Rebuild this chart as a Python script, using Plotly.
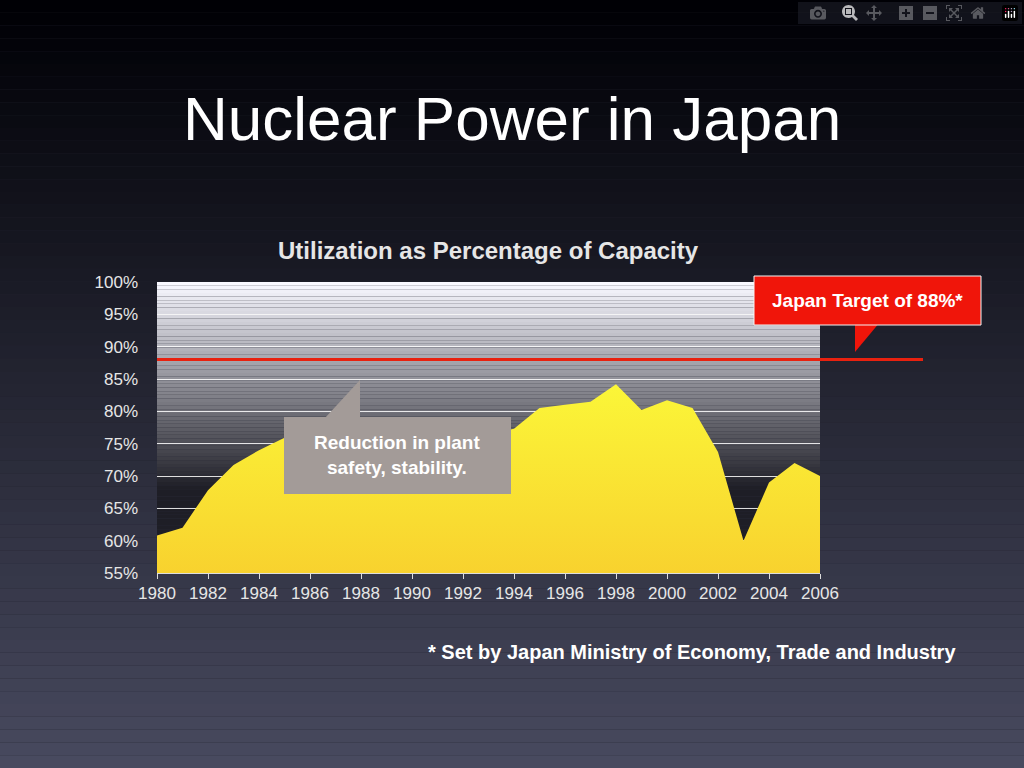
import plotly.graph_objects as go

years = list(range(1980, 2007))
utilization = [60.8, 62.0, 67.8, 71.7, 74.0, 75.9, 76.5, 76.0, 75.5, 75.0, 75.5, 76.0, 76.2, 76.5, 77.3,
               80.5, 81.0, 81.5, 84.2, 80.2, 81.7, 80.5, 73.7, 60.0, 69.0, 72.0, 70.0]
target = 88
y_ticks = [55, 60, 65, 70, 75, 80, 85, 90, 95, 100]

W, H = 1024, 768
L, R, T, B = 157, 820, 282, 573

def px(x, y):
    return (x - L) / (R - L), (H - y - (H - B)) / (B - T)

fig = go.Figure()
fig.add_trace(go.Scatter(
    x=years, y=utilization, mode="lines", line=dict(width=0, color="#f5d020"),
    fill="tozeroy",
    fillgradient=dict(type="vertical", colorscale=[[0, "#f08a22"], [0.5, "#f7c22a"], [1, "#fbf638"]]),
    hoverinfo="x+y"))

shapes = []
# page background gradient
n = 60
for i in range(n):
    t = i / (n - 1)
    c = (int(0 + 72 * t), int(0 + 74 * t), int(5 + 90 * t))
    shapes.append(dict(type="rect", xref="paper", yref="paper", layer="below",
                       x0=-1, x1=2, y0=px(0, H * (i + 1) / n)[1], y1=px(0, H * i / n)[1],
                       fillcolor="rgb(%d,%d,%d)" % c, line=dict(width=0)))
# plot area gradient (light top to dark)
m = 80
for i in range(m):
    t = i / (m - 1)
    g = int(248 - 218 * min(1, t * 1.4))
    shapes.append(dict(type="rect", xref="paper", yref="paper", layer="below",
                       x0=0, x1=1, y0=1 - (i + 1) / m, y1=1 - i / m,
                       fillcolor="rgb(%d,%d,%d)" % (g, g, g + 8), line=dict(width=0)))
# target line
shapes.append(dict(type="line", xref="paper", yref="y", x0=0, x1=px(923, 0)[0],
                   y0=target, y1=target, line=dict(color="#e8210f", width=3)))
# red box pointer
a, b = px(855, 352), px(855, 322)
c = px(880, 322)
shapes.append(dict(type="path", xref="paper", yref="paper",
                   path="M %f %f L %f %f L %f %f Z" % (a[0], a[1], b[0], b[1], c[0], c[1]),
                   fillcolor="#f0150a", line=dict(width=0)))
# grey callout pointer
a, b, c = px(325, 418), px(360, 380), px(360, 418)
shapes.append(dict(type="path", xref="paper", yref="paper",
                   path="M %f %f L %f %f L %f %f Z" % (a[0], a[1], b[0], b[1], c[0], c[1]),
                   fillcolor="#a39b98", line=dict(width=0)))
x0, y1 = px(284, 417)
x1, y0 = px(511, 494)
shapes.append(dict(type="rect", xref="paper", yref="paper", x0=x0, x1=x1, y0=y0, y1=y1,
                   fillcolor="#a39b98", line=dict(width=0)))
x0, y1 = px(754, 276)
x1, y0 = px(981, 325)
shapes.append(dict(type="rect", xref="paper", yref="paper", x0=x0, x1=x1, y0=y0, y1=y1,
                   fillcolor="#f0150a", line=dict(color="#f4f4f4", width=1)))

ann = [
    dict(text="Nuclear Power in Japan", x=px(512, 118)[0], y=px(0, 118)[1],
         font=dict(size=62, color="white", family="Liberation Sans")),
    dict(text="<b>Utilization as Percentage of Capacity</b>", x=px(488, 250)[0], y=px(0, 250)[1],
         font=dict(size=24, color="#e6e6e6", family="Liberation Sans")),
    dict(text="<b>Japan Target of 88%*</b>", x=px(867, 300)[0], y=px(0, 300)[1],
         font=dict(size=19, color="white", family="Liberation Sans")),
    dict(text="<b>Reduction in plant<br>safety, stability.</b>", x=px(397, 455)[0], y=px(0, 455)[1],
         font=dict(size=19, color="white", family="Liberation Sans")),
    dict(text="<b>* Set by Japan Ministry of Economy, Trade and Industry</b>",
         x=px(692, 652)[0], y=px(0, 652)[1],
         font=dict(size=20, color="white", family="Liberation Sans")),
]
for d in ann:
    d.update(xref="paper", yref="paper", showarrow=False, xanchor="center", yanchor="middle")

fig.update_layout(
    width=W, height=H, showlegend=False,
    margin=dict(l=L, r=W - R, t=T, b=H - B),
    paper_bgcolor="#22232f", plot_bgcolor="rgba(0,0,0,0)",
    shapes=shapes, annotations=ann,
    xaxis=dict(range=[1980, 2006], tickvals=list(range(1980, 2007, 2)), showgrid=False,
               tickfont=dict(size=17, color="#e6e6e6", family="Liberation Sans"),
               ticks="outside", ticklen=5, tickcolor="#ddd", showline=True,
               linecolor="#ddd", zeroline=False),
    yaxis=dict(range=[55, 100], tickvals=y_ticks, ticktext=[f"{v}%" for v in y_ticks],
               showgrid=True, gridcolor="rgba(255,255,255,0.85)", gridwidth=1,
               tickfont=dict(size=17, color="#e6e6e6", family="Liberation Sans"),
               zeroline=False, ticklabelstandoff=18),
)
fig.write_html("out.html", post_script="document.body.style.margin='0';")
